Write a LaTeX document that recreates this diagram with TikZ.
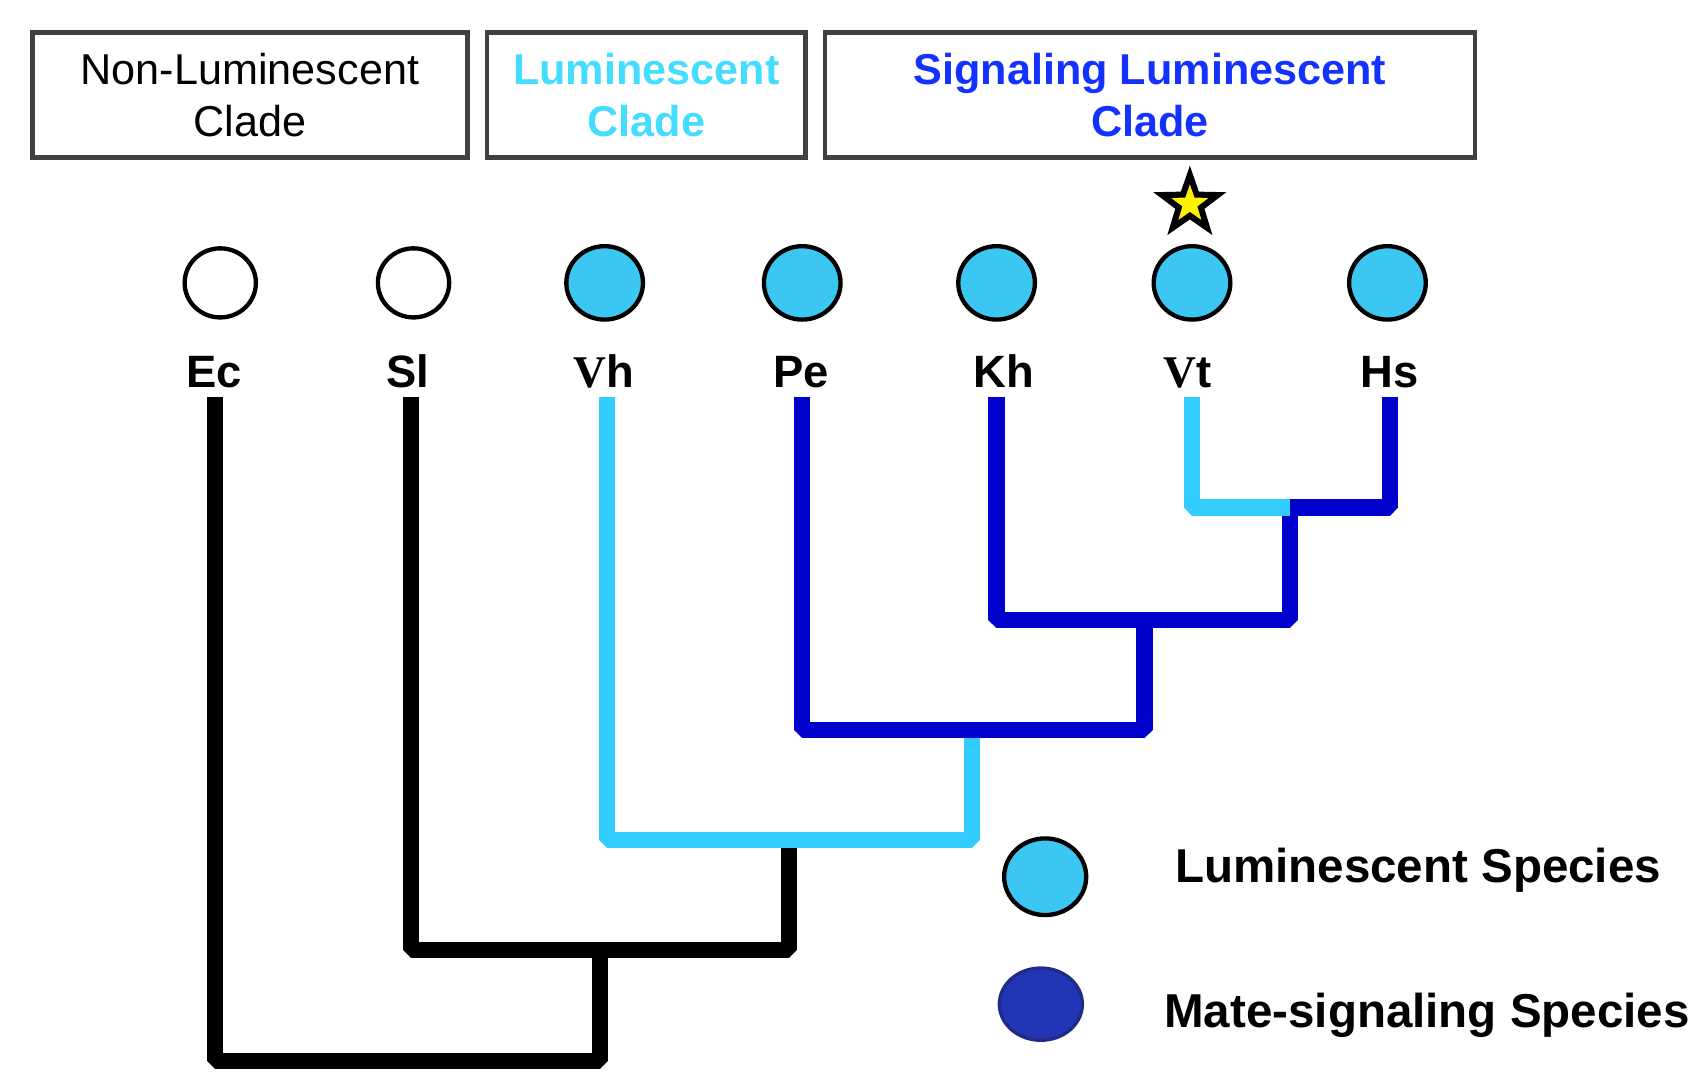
\documentclass[tikz,border=0pt]{standalone}
\usepackage{fontspec}
\setmainfont{Liberation Sans}
\newfontfamily\serifv{Liberation Serif}
\newcommand\serV{{\serifv\bfseries V}}
\usetikzlibrary{shapes.geometric, positioning}

\definecolor{boxgray}{HTML}{404040}
\definecolor{lumtext}{HTML}{44DDFF}
\definecolor{sigtext}{HTML}{1432FF}
\definecolor{lumfill}{HTML}{3CC6F2}
\definecolor{lumline}{HTML}{33CCFF}
\definecolor{sigline}{HTML}{0000CC}
\definecolor{matefill}{HTML}{2135B5}
\definecolor{mateedge}{HTML}{1F2B85}

\tikzset{
  cladebox/.style={draw=boxgray, line width=2.2pt, minimum height=58pt, align=center,
    inner sep=0pt, font=\fontsize{20pt}{24pt}\selectfont},
  boldbox/.style={cladebox, font=\fontsize{20pt}{24pt}\selectfont\bfseries},
  species/.style={ellipse, draw=black, line width=2pt, inner sep=0pt},
  tag/.style={font=\fontsize{21pt}{24pt}\selectfont\bfseries, inner sep=0pt},
  keytext/.style={font=\fontsize{22pt}{26pt}\selectfont\bfseries, inner sep=0pt},
  branch/.style={line width=7.5pt, line join=bevel, line cap=butt},
}

\begin{document}
\begin{tikzpicture}[x=0.5pt, y=-0.5pt]
    \useasboundingbox (0,0) rectangle (1568,994);

    % clades
    \node[cladebox, minimum width=201.5pt] (nonlum) at (231.5,88) {Non-Luminescent\\Clade};
    \node[boldbox, minimum width=147.5pt, text=lumtext] (lum) at (598.5,88) {Luminescent\\Clade};
    \node[boldbox, minimum width=301pt, text=sigtext] (siglum) at (1065,88) {Signaling Luminescent\\Clade};

    % species
    \foreach \n/\cx/\lx/\tx/\fc/\w/\h/\txt in {
        ec/204/198/199/white/33/32/Ec,
        sl/383/378/381/white/33/32/Sl,
        vh/560/559/562/lumfill/35.5/34/\serV h,
        pe/743/742/743/lumfill/35.5/34/Pe,
        kh/923/930/923/lumfill/35.5/34/Kh,
        vt/1104/1100/1104/lumfill/35.5/34/\serV t,
        hs/1285/1287/1287/lumfill/35.5/34/Hs}
    {
        \node[species, fill=\fc, minimum width=\w pt, minimum height=\h pt] (\n) at (\cx,262) {};
        \node[tag, anchor=base] (lab\n) at (\lx,359) {\txt};
        \coordinate (tip\n) at (\tx,368);
    }

    \node[star, star points=5, star point ratio=2.5, fill=yellow, draw=black,
        line width=2.8pt, minimum size=27pt, inner sep=0pt] (mark) at (1102,189) {};

    % tree
    \coordinate (jvths) at (1195,470);
    \coordinate (jkh) at (1060,574);
    \coordinate (jpe) at (900,676);
    \coordinate (jvh) at (731,778);
    \coordinate (jsl) at (556,880);
    \coordinate (root) at (380,983);

    \draw[branch, black] (tipec) |- (root) -| (jsl);
    \draw[branch, black] (tipsl) |- (jsl) -| (jvh);
    \draw[branch, lumline] (tipvh) |- (jvh) -| (jpe);
    \draw[branch, sigline] (tippe) |- (jpe) -| (jkh);
    \draw[branch, sigline] (tipkh) |- (jkh) -| (jvths);
    \draw[branch, lumline] (tipvt) |- (jvths);
    \draw[branch, sigline] (tiphs) |- (jvths);

    % legend
    \node[species, fill=lumfill, minimum width=38pt, minimum height=35.5pt] (lumkey) at (968,812) {};
    \node[species, fill=matefill, draw=mateedge, line width=1.5pt,
        minimum width=38.5pt, minimum height=33.5pt] (matekey) at (964,930) {};
    \node[keytext, anchor=base west] (lumlab) at (1088,817) {Luminescent Species};
    \node[keytext, anchor=base west] (matelab) at (1078,952) {Mate-signaling Species};
\end{tikzpicture}
\end{document}
